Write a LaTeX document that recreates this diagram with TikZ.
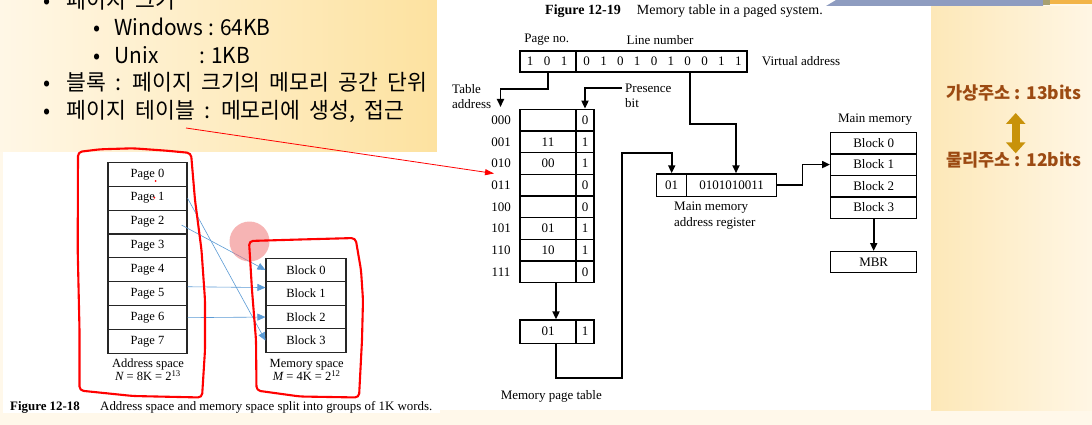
\documentclass[tikz,border=0pt]{standalone}
\usepackage{fontspec}
\setmainfont{Liberation Serif}
\newfontfamily\krfont[FakeStretch=0.95]{Noto Sans CJK KR}
\newfontfamily\krwide[FakeStretch=0.98, WordSpace=1.9]{Noto Sans CJK KR}
\newfontfamily\krside{Noto Sans CJK KR}
\usetikzlibrary{arrows.meta,calc}
\definecolor{bgpale}{HTML}{FFF8EA}
\definecolor{ylL}{HTML}{FFF7E6}
\definecolor{ylR}{HTML}{FDE2A0}
\definecolor{bandL}{HTML}{FDE8B8}
\definecolor{bandR}{HTML}{FFF6E4}
\definecolor{arrblue}{HTML}{5B9BD5}
\definecolor{krbrown}{HTML}{9C4A12}
\definecolor{krgold}{HTML}{C8920A}
\definecolor{stripcol}{HTML}{8E9CC0}
\definecolor{pinkc}{HTML}{F07878}
\definecolor{edgecol}{HTML}{A8A070}
\definecolor{orgcol}{HTML}{F2B448}
\begin{document}
\begin{tikzpicture}[x=1pt,y=-1pt,
  kt/.style={font=\krfont\fontsize{22}{26}\selectfont, anchor=base west, inner sep=0},
  kw/.style={font=\krwide\fontsize{22}{26}\selectfont, anchor=base west, inner sep=0},
  kb/.style={font=\krfont\fontsize{22}{26}\selectfont, anchor=base, inner sep=0},
  pg/.style={draw=black!85, line width=1.1pt, minimum width=79pt, minimum height=23.9pt, inner sep=0, font=\fontsize{12.5}{14}\selectfont},
  blk/.style={pg, minimum width=80pt, minimum height=23.5pt},
  lbl/.style={font=\fontsize{12.5}{14}\selectfont, inner sep=0},
  captxt/.style={font=\fontsize{12.9}{15}\selectfont, inner sep=0},
  rc/.style={draw, line width=1.4pt, inner sep=0, font=\fontsize{13}{15}\selectfont},
  rl/.style={font=\fontsize{13}{15}\selectfont, inner sep=0},
  conn/.style={line width=1.8pt},
  arr/.style={conn, -{Triangle[length=8pt,width=7pt]}},
  blarr/.style={arrblue, line width=0.6pt, -{Triangle[length=8pt,width=7pt]}},
  redline/.style={red, line width=2.1pt, line join=round, line cap=round, rounded corners=4pt},
  side/.style={font=\krside\bfseries\fontsize{17.5}{20}\selectfont, text=krbrown, inner sep=0},
]
\useasboundingbox (0,0) rectangle (1092,425);
% backgrounds
\fill[bgpale] (0,0) rectangle (1092,425);
\shade[left color=ylL, right color=ylR] (0,0) rectangle (437,152);
\fill[white] (3,152) rectangle (440,413);
\fill[white] (437,0) rectangle (931,410);
\shade[left color=bandL, right color=bandR] (931,7) rectangle (1092,410);

% top-left text
\node[kb] (bu1) at (46.7,8.7) {•};
\node[kw] (t1) at (66.7,8.7) {페이지 크기};
\node[kb] (bu2) at (96.7,36) {•};
\node[kt] (t2) at (114.3,36) {Windows : 64KB};
\node[kb] (bu3) at (96.7,63.3) {•};
\node[kt] (t3) at (114.3,63.3) {Unix};
\node[kt] (t3b) at (199,63.3) {: 1KB};
\node[kb] (bu4) at (46.7,91) {•};
\node[kw] (t4) at (66.7,91) {블록 : 페이지 크기의 메모리 공간 단위};
\node[kb] (bu5) at (46.7,118.5) {•};
\node[kw] (t5) at (66.7,118.5) {페이지 테이블 : 메모리에 생성, 접근};

% left figure
\foreach \i in {0,...,7}
  \node[pg] (p\i) at (147.5,{174.25+23.9*\i}) {Page \i};
\node[lbl, anchor=base] (asp) at (148,367.3) {Address space};
\node[lbl, anchor=base] (asn) at (148,380.7) {{\itshape N} = 8K = 2\textsuperscript{13}};
\foreach \i in {0,...,3}
  \node[blk] (bk\i) at (306,{270.05+23.5*\i}) {Block \i};
\node[lbl, anchor=base] (msp) at (306.7,367.3) {Memory space};
\node[lbl, anchor=base] (msm) at (306.7,380.7) {{\itshape M} = 4K = 2\textsuperscript{12}};
\node[captxt, anchor=base west] (c18a) at (10,410.5) {\bfseries Figure 12-18};
\node[captxt, anchor=base west] (c18b) at (100,410.5) {Address space and memory space split into groups of 1K words.};

\draw[blarr] (p1.east) -- (bk3.west);
\draw[blarr] ($(p2.east)+(-6,3)$) -- (bk0.west);
\draw[blarr] ($(p5.east)+(0,-7)$) -- ($(bk1.west)+(0,-6)$);
\draw[blarr] (p6.east) -- (bk2.west);

\fill[pinkc, opacity=0.55] (249.5,241.5) circle[radius=20pt];
\draw[redline] (78,152) -- (100,149.3) -- (133,148.3) -- (166.7,150.7) -- (191,153) -- (195,200) -- (201.5,250) -- (205,300) -- (205,350) -- (202,397.5) -- (133,396) -- (79.5,390.5) -- (79.5,330) -- (77.7,250) -- cycle;
\draw[redline] (249,241) -- (300,239.5) -- (355.5,238) -- (361,270) -- (363,300) -- (362,340) -- (359,397.5) -- (300,396.5) -- (256.5,390.5) -- (256,340) -- (252,290) -- cycle;
\fill[red] (155.7,181) circle[radius=1pt];
\fill[red] (154.3,197.7) circle[radius=1pt];

% red pointer
\coordinate (rs) at (186,128);
\coordinate (rtip) at (494,173.5);
\draw[red, line width=0.8pt, -{Triangle[length=9pt,width=6pt]}] (rs) -- (rtip);

% right figure
\node[rl, anchor=base west, font=\fontsize{14}{16}\selectfont] (c19a) at (545,15) {\bfseries Figure 12-19};
\node[rl, anchor=base west, font=\fontsize{14}{16}\selectfont] (c19b) at (636.7,15) {Memory table in a paged system.};

\node[rc, minimum width=56pt, minimum height=21pt] (va1) at (548,61.5) {};
\node[rc, minimum width=171pt, minimum height=21pt] (va2) at (661.5,61.5) {};
\foreach \b [count=\k from 0] in {1,0,1}
  \node[rl] (vb\k) at ({530+17*\k},61.5) {\b};
\foreach \b [count=\k from 0] in {0,1,0,1,0,1,0,0,1,1}
  \node[rl] (vc\k) at ({586.7+16.84*\k},61.5) {\b};
\node[rl] (pno) at (546.7,40) {Page no.};
\node[rl] (lno) at (660,40) {Line number};
\node[rl, anchor=west] (vad) at (761.7,61.5) {Virtual address};

\node[rl, anchor=west] (ta1) at (452,89) {Table};
\node[rl, anchor=west] (ta2) at (452,104) {address};
\node[rl, anchor=west] (pb1) at (625,88) {Presence};
\node[rl, anchor=west] (pb2) at (625,103) {bit};

\foreach \lab/\v/\b [count=\k from 0] in {000//0,001/11/1,010/00/1,011//0,100//0,101/01/1,110/10/1,111//0} {
  \node[rc, minimum width=56pt, minimum height=21.67pt] (tv\k) at (548,{120.15+21.67*\k}) {\v};
  \node[rc, minimum width=18pt, minimum height=21.67pt] (tb\k) at (585,{120.15+21.67*\k}) {\b};
  \node[rl] (tl\k) at (501,{120.15+21.67*\k}) {\lab};
}

\node[rc, minimum width=56pt, minimum height=23.3pt] (e1) at (548,331.7) {01};
\node[rc, minimum width=18pt, minimum height=23.3pt] (e2) at (585,331.7) {1};
\node[rl] (mpt) at (551.3,396.7) {Memory page table};

\node[rc, minimum width=30pt, minimum height=22.7pt] (m1) at (671.7,185.3) {01};
\node[rc, minimum width=90pt, minimum height=22.7pt] (m2) at (731.7,185.3) {0101010011};
\node[rl, anchor=west] (mr1) at (674,208) {Main memory};
\node[rl, anchor=west] (mr2) at (674,223.3) {address register};

\node[rl] (mml) at (875,120) {Main memory};
\foreach \i in {0,...,3}
  \node[rc, minimum width=86pt, minimum height=21.5pt] (mm\i) at (873.7,{143.05+21.5*\i}) {Block \i};
\node[rc, minimum width=86pt, minimum height=21pt] (mbr) at (873.7,262.2) {MBR};

% connectors
\coordinate (tadrEnd) at (500.5,107);
\draw[arr] (va1.south) -- ++(0,16.3) -| (tadrEnd);
\coordinate (pbs) at (622,88.3);
\draw[arr] (pbs) -| (tb0.north);
\draw[arr] ($(va2.south)+(28.5,0)$) -- ++(0,51.3) -| ($(m2.north)+(4.3,0)$);
\draw[arr] ($(tv7.south)+(8,0)$) -- ($(e1.north)+(8,0)$);
\coordinate (rt) at (622,378.3);
\coordinate (rt2) at (622,153.3);
\draw[arr] ($(e1.south)+(8,0)$) |- (rt) -- (rt2) -| (m1.north);
\draw[arr] (m2.east) -- ++(25,0) |- (mm1.west);
\draw[arr] (mm3.south) -- (mbr.north);

% side labels
\node[side] (vl) at (1014,93.3) {가상주소 : 13bits};
\node[side] (pl) at (1014,160) {물리주소 : 12bits};
\coordinate (da1) at (1015.7,113);
\coordinate (da2) at (1015.7,153.3);
\draw[krgold, line width=8pt, {Triangle[width=19pt,length=11pt]}-{Triangle[width=19pt,length=11pt]}] (da1) -- (da2);

% top strip fragment
\fill[stripcol] (826,6) -- (836,0) -- (1043,0) -- (1043,6) -- cycle;
\fill[edgecol] (1043,0) rectangle (1050,5);
\fill[orgcol] (1050,0) rectangle (1092,4);
\end{tikzpicture}
\end{document}
